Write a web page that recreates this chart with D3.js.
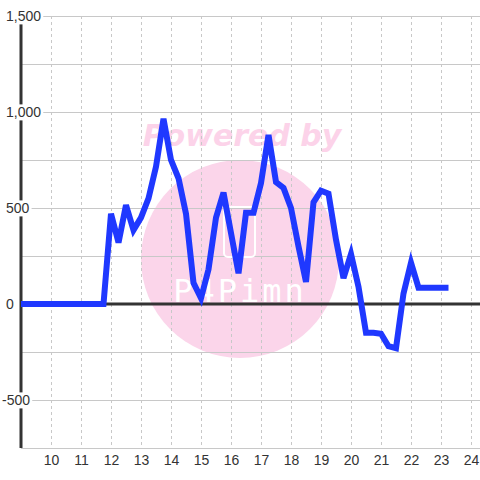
<!DOCTYPE html>
<html>
<head>
<meta charset="utf-8">
<script src="https://cdn.jsdelivr.net/npm/d3@7"></script>
<style>
html,body{margin:0;padding:0;background:#fff;}
svg{display:block;font-family:"Liberation Sans",Arial,sans-serif;}
</style>
</head>
<body>
<svg id="chart" width="480" height="480"></svg>
<script>
const hours = [9,9.25,9.5,9.75,10,10.25,10.5,10.75,11,11.25,11.5,11.75,
  12,12.25,12.5,12.75,13,13.25,13.5,13.75,14,14.25,14.5,14.75,15,15.25,15.5,15.75,
  16,16.25,16.5,16.75,17,17.25,17.5,17.75,18,18.25,18.5,18.75,19,19.25,19.5,19.75,
  20,20.25,20.5,20.75,21,21.25,21.5,21.75,22,22.25,22.5,22.75,23,23.25];
const values = [0,0,0,0,0,0,0,0,0,0,0,0,
  470,320,515,385,450,550,715,965,750,655,470,110,30,180,450,580,
  370,160,475,475,630,880,635,605,500,300,115,530,590,575,335,135,
  260,90,-150,-150,-155,-220,-230,55,215,85,85,85,85,85];
const xTicks = [10,11,12,13,14,15,16,17,18,19,20,21,22,23,24];
const yLabelTicks = [-500,0,500,1000,1500];
const yGridTicks = [-750,-500,-250,0,250,500,750,1000,1250,1500];

const svg = d3.select("#chart");
const x = d3.scaleLinear().domain([9, 24.3]).range([21, 480]);
const y = d3.scaleLinear().domain([-750, 1500]).range([448, 16]);

// watermark circle
svg.append("circle").attr("cx",240).attr("cy",259).attr("r",99).attr("fill","#fbd5ea");
svg.append("text").attr("x",242).attr("y",146).attr("text-anchor","middle")
  .attr("font-size",30).attr("font-weight","bold").attr("font-style","italic")
  .attr("font-family","DejaVu Sans,sans-serif")
  .attr("fill","#fcd3e9").text("Powered by");

// horizontal grid
svg.append("g").selectAll("line").data(yGridTicks).join("line")
  .attr("x1",21).attr("x2",480).attr("y1",d=>Math.round(y(d))+0.5).attr("y2",d=>Math.round(y(d))+0.5)
  .attr("stroke","#c8c8c8").attr("stroke-width",1);
// vertical dotted grid
svg.append("g").selectAll("line").data(xTicks).join("line")
  .attr("x1",d=>Math.round(x(d))+0.5).attr("x2",d=>Math.round(x(d))+0.5).attr("y1",16).attr("y2",448)
  .attr("stroke","#c8c8c8").attr("stroke-width",1).attr("stroke-dasharray","3,3");

// watermark logo
svg.append("rect").attr("x",224).attr("y",207).attr("width",31).attr("height",50).attr("rx",4)
  .attr("fill","none").attr("stroke","#fff").attr("stroke-width",2);
svg.append("text").attr("x",240).attr("y",302).attr("text-anchor","middle")
  .attr("font-size",32).attr("font-family","DejaVu Sans Mono,monospace").attr("fill","#fff")
  .attr("letter-spacing",3).text("P4Pimn");

// zero line and y axis line
svg.append("line").attr("x1",21).attr("x2",480).attr("y1",y(0)).attr("y2",y(0))
  .attr("stroke","#333").attr("stroke-width",3);
svg.append("line").attr("x1",21).attr("x2",21).attr("y1",16).attr("y2",448)
  .attr("stroke","#333").attr("stroke-width",3);

// data line
const line = d3.line().x((d,i)=>x(hours[i])).y(d=>y(d));
svg.append("path").datum(values).attr("d",line)
  .attr("fill","none").attr("stroke","#1f38ff").attr("stroke-width",6)
  .attr("stroke-linejoin","miter").attr("stroke-linecap","butt");

// x axis labels
const xAxis = d3.axisBottom(x).tickValues(xTicks).tickSize(0).tickFormat(d3.format("d"));
const gx = svg.append("g").attr("transform","translate(0,450)").call(xAxis);
gx.select(".domain").remove();
gx.selectAll("text").attr("font-size",14).attr("fill","#333").attr("dy","0.71em")
  .attr("font-family","Liberation Sans,Arial,sans-serif").attr("y",5);

// y axis labels with halo
const fmt = d3.format(",");
const yAxis = d3.axisLeft(y).tickValues(yLabelTicks).tickSize(0)
  .tickFormat(d => fmt(d).replace("\u2212","-"));
const gy = svg.append("g").attr("transform","translate(0,0)").call(yAxis);
gy.select(".domain").remove();
gy.selectAll(".tick text").attr("font-size",14).attr("fill","#333")
  .attr("font-family","Liberation Sans,Arial,sans-serif")
  .attr("text-anchor","start").attr("x",d => d < 0 ? 2 : 6).attr("dy","0.35em");
gy.selectAll(".tick").each(function(){
  const t = d3.select(this).select("text");
  const b = t.node().getBBox();
  d3.select(this).insert("rect","text").attr("x",b.x-2).attr("y",b.y)
    .attr("width",b.width+4).attr("height",b.height).attr("fill","#fff");
});
</script>
</body>
</html>
